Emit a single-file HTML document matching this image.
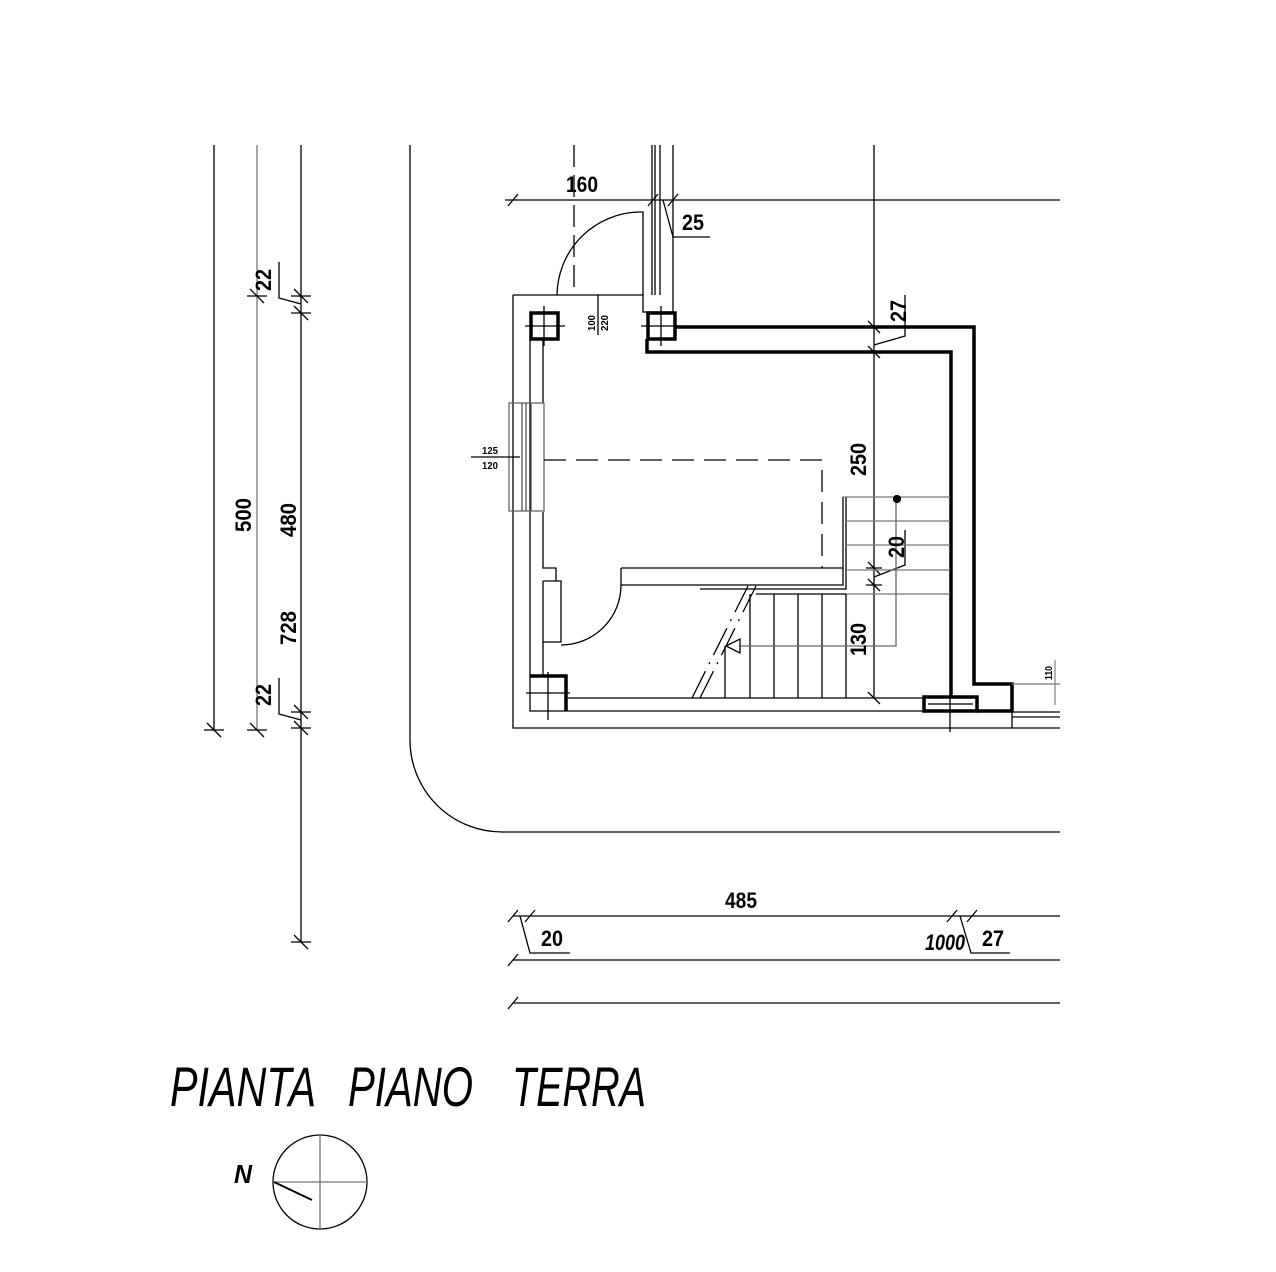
<!DOCTYPE html>
<html><head><meta charset="utf-8"><style>
html,body{margin:0;padding:0;background:#fff;}
svg{display:block;}
text{font-family:"Liberation Sans",sans-serif;fill:#000;}
.d{font-size:22px;font-weight:bold;}
.s{font-size:10px;font-weight:bold;}
.t{font-size:56px;font-style:italic;font-weight:normal;}
</style></head><body>
<svg width="1276" height="1272" viewBox="0 0 1276 1272" xmlns="http://www.w3.org/2000/svg">
<g stroke="#000" stroke-width="1.3" fill="none">
<line x1="214" y1="145" x2="214" y2="730"/>
<line x1="257" y1="145" x2="257" y2="730" stroke="#777"/>
<line x1="301" y1="145" x2="301" y2="942"/>
<path d="M204 730h20M207 723l14 14"/>
<path d="M247 296h20M250 289l14 14M247 730h20M250 723l14 14"/>
<path d="M291 296h20M294 289l14 14M291 313h20M294 306l14 14M291 712h20M294 705l14 14M291 728h20M294 721l14 14M291 942h20M294 935l14 14"/>
<path d="M301 304L279 298V262M301 720L279 714V678"/>
<path d="M410 145V740A92 92 0 0 0 502 832H1060"/>
<line x1="505" y1="200" x2="1060" y2="200"/>
<path d="M508 206l10-12M648 206l10-12M668 206l10-12"/>
<path d="M663 200L673 237H710"/>
<line x1="574" y1="145" x2="574" y2="295" stroke-dasharray="22,8"/>
<path d="M652 145V295M655 145V295M660 145V295M673 145V295"/>
<line x1="874" y1="145" x2="874" y2="698"/>
<path d="M868 321l12 12M868 346l12 12M868 562l12 12M868 579l12 12M868 692l12 12M866 568h16M866 585h16"/>
<path d="M874 345L905 336V295M874 577L905 565V530"/>
<path d="M557 295A84 84 0 0 1 640 212H643V295"/>
<path d="M513 295H643V312H673V295M513 295V728H1060"/>
<path d="M598 295V335"/>
<rect x="531" y="313" width="27" height="26" stroke-width="3.5"/>
<path d="M525 326h40M544 306v40"/>
<path d="M530 339V676M543 339V403M543 512V568H556V581"/>
<rect x="648" y="313" width="27" height="26" stroke-width="3.5"/>
<path d="M641 326h40M661 306v40"/>
<path d="M675 327H974V684H1012V711H977" stroke-width="3.5"/>
<path d="M647 339V352H951V697" stroke-width="3.5"/>
<rect x="924" y="697" width="53" height="14" stroke-width="3.5"/>
<path d="M928 704h45M950 697v35"/>
<rect x="509" y="403" width="35" height="108" stroke="#666"/>
<path d="M522 403v108M526 403v108M531 403v108" stroke="#555"/>
<path d="M471 457H520"/>
<path d="M544 460H822V568" stroke-dasharray="22,10"/>
<path d="M621 568H843V497M846 497V589H700M621 568V585H843V497"/>
<path d="M843 497H950M846 521H950M846 545H950M846 570H950M846 594H950" stroke="#777"/>
<path d="M543 581H561V642H543M543 581V676"/>
<path d="M621 585A60 60 0 0 1 561 645"/>
<path d="M756 594H846M725 646V698M750 594V698M774 594V698M798 594V698M822 594V698M846 594V698"/>
<path d="M692 698L748 586M700 698L756 586" stroke-dasharray="30,8,2,8"/>
<path d="M740 646H896V499" stroke="#666"/>
<path d="M726 646L740 639V653Z"/>
<circle cx="897" cy="499" r="3.5" fill="#000"/>
<path d="M530 676V711H566"/>
<path d="M530 676H566V711" stroke-width="3.5"/>
<path d="M526 693h44M548 672v48"/>
<path d="M566 698H924M566 711H924"/>
<path d="M1012 711V728M1012 717H1060M1012 712H1060"/>
<path d="M1055 660V705" stroke="#888"/>
<path d="M1012 684H1060" stroke="#777"/>
<path d="M513 916H1060M513 960H1060M513 1003H1060"/>
<path d="M508 922l10-12M525 922l10-12M947 922l10-12M967 922l10-12M508 966l10-12M508 1009l10-12"/>
<path d="M520 916L530 953H570M960 916L971 953H1010"/>
<circle cx="320" cy="1182" r="47"/>
<path d="M273 1182H367M320 1135V1229" stroke="#777"/>
<path d="M274 1182L312 1200" stroke-width="1.8"/>
</g>
<text class="d" x="566" y="192" textLength="32" lengthAdjust="spacingAndGlyphs">160</text>
<text class="d" x="682" y="230" textLength="22" lengthAdjust="spacingAndGlyphs">25</text>
<text class="d" transform="translate(906,322) rotate(-90)" textLength="22" lengthAdjust="spacingAndGlyphs">27</text>
<text class="d" transform="translate(866,476) rotate(-90)" textLength="33" lengthAdjust="spacingAndGlyphs">250</text>
<text class="d" transform="translate(904,558) rotate(-90)" textLength="22" lengthAdjust="spacingAndGlyphs">20</text>
<text class="d" transform="translate(866,656) rotate(-90)" textLength="33" lengthAdjust="spacingAndGlyphs">130</text>
<text class="d" transform="translate(251,532) rotate(-90)" textLength="34" lengthAdjust="spacingAndGlyphs">500</text>
<text class="d" transform="translate(296,537) rotate(-90)" textLength="34" lengthAdjust="spacingAndGlyphs">480</text>
<text class="d" transform="translate(296,645) rotate(-90)" textLength="34" lengthAdjust="spacingAndGlyphs">728</text>
<text class="d" transform="translate(271,291) rotate(-90)" textLength="22" lengthAdjust="spacingAndGlyphs">22</text>
<text class="d" transform="translate(271,706) rotate(-90)" textLength="22" lengthAdjust="spacingAndGlyphs">22</text>
<text class="s" transform="translate(595,331) rotate(-90)" textLength="16" lengthAdjust="spacingAndGlyphs">100</text>
<text class="s" transform="translate(608,331) rotate(-90)" textLength="16" lengthAdjust="spacingAndGlyphs">220</text>
<text class="s" x="482" y="454" textLength="16" lengthAdjust="spacingAndGlyphs">125</text>
<text class="s" x="482" y="469" textLength="16" lengthAdjust="spacingAndGlyphs">120</text>
<text class="s" transform="translate(1052,680) rotate(-90)" textLength="14" lengthAdjust="spacingAndGlyphs">110</text>
<text class="d" x="725" y="908" textLength="32" lengthAdjust="spacingAndGlyphs">485</text>
<text class="d" x="541" y="946" textLength="22" lengthAdjust="spacingAndGlyphs">20</text>
<text class="d" x="925" y="950" textLength="40" lengthAdjust="spacingAndGlyphs" font-style="italic">1000</text>
<text class="d" x="982" y="946" textLength="22" lengthAdjust="spacingAndGlyphs">27</text>
<text class="t" x="170" y="1106" textLength="146" lengthAdjust="spacingAndGlyphs">PIANTA</text>
<text class="t" x="348" y="1106" textLength="125" lengthAdjust="spacingAndGlyphs">PIANO</text>
<text class="t" x="512" y="1106" textLength="134" lengthAdjust="spacingAndGlyphs">TERRA</text>
<text x="234" y="1183" font-size="26" font-style="italic" textLength="18" lengthAdjust="spacingAndGlyphs" style="font-weight:bold;">N</text>
</svg>
</body></html>
